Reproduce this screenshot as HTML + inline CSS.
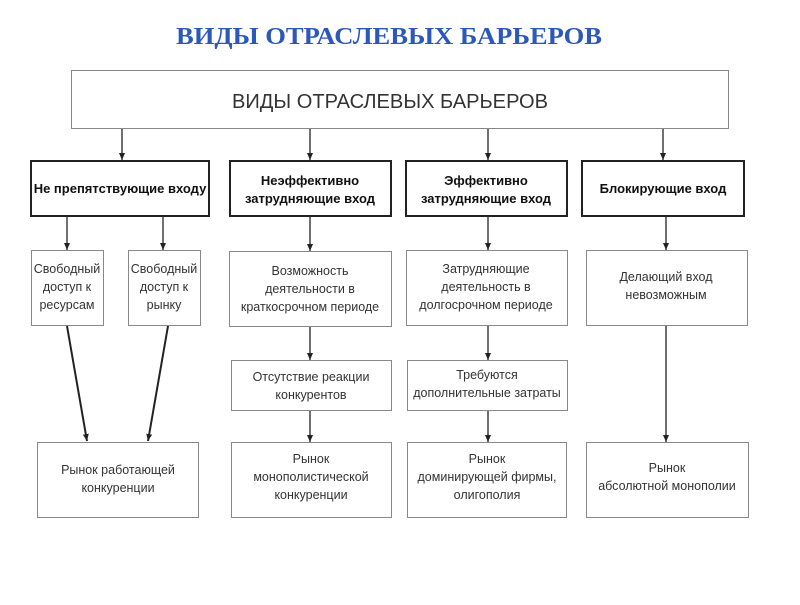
<!DOCTYPE html>
<html><head><meta charset="utf-8"><style>
body{margin:0;background:#fff;width:800px;height:600px;overflow:hidden}
svg text{font-family:"Liberation Sans","DejaVu Sans",sans-serif;fill:#333;text-anchor:middle}
</style></head><body>
<svg width="800" height="600" xmlns="http://www.w3.org/2000/svg">
<defs><marker id="a" markerWidth="8" markerHeight="8" refX="7" refY="4" orient="auto" markerUnits="userSpaceOnUse"><path d="M0,1 L7,4 L0,7 z" fill="#222"/></marker></defs>
<text x="389" y="44" textLength="426" lengthAdjust="spacingAndGlyphs" style="font-family:'Liberation Serif',serif;font-weight:bold;font-size:24px;fill:#2c58bc">ВИДЫ ОТРАСЛЕВЫХ БАРЬЕРОВ</text>
<g fill="#fff" stroke="#888" stroke-width="1">
<rect x="71.5" y="70.5" width="657" height="58"/>
<rect x="31.5" y="250.5" width="72" height="75"/>
<rect x="128.5" y="250.5" width="72" height="75"/>
<rect x="229.5" y="251.5" width="162" height="75"/>
<rect x="406.5" y="250.5" width="161" height="75"/>
<rect x="586.5" y="250.5" width="161" height="75"/>
<rect x="231.5" y="360.5" width="160" height="50"/>
<rect x="407.5" y="360.5" width="160" height="50"/>
<rect x="37.5" y="442.5" width="161" height="75"/>
<rect x="231.5" y="442.5" width="160" height="75"/>
<rect x="407.5" y="442.5" width="159" height="75"/>
<rect x="586.5" y="442.5" width="162" height="75"/>
</g>
<g fill="#fff" stroke="#222" stroke-width="2">
<rect x="31" y="161" width="178" height="55"/>
<rect x="230" y="161" width="161" height="55"/>
<rect x="406" y="161" width="161" height="55"/>
<rect x="582" y="161" width="162" height="55"/>
</g>
<g stroke="#222" stroke-width="1.3" marker-end="url(#a)">
<line x1="122" y1="129" x2="122" y2="160"/>
<line x1="310" y1="129" x2="310" y2="160"/>
<line x1="488" y1="129" x2="488" y2="160"/>
<line x1="663" y1="129" x2="663" y2="160"/>
<line x1="67" y1="217" x2="67" y2="250"/>
<line x1="163" y1="217" x2="163" y2="250"/>
<line x1="310" y1="217" x2="310" y2="251"/>
<line x1="488" y1="217" x2="488" y2="250"/>
<line x1="666" y1="217" x2="666" y2="250"/>
<line x1="310" y1="327" x2="310" y2="360"/>
<line x1="488" y1="326" x2="488" y2="360"/>
<line x1="310" y1="411" x2="310" y2="442"/>
<line x1="488" y1="411" x2="488" y2="442"/>
<line x1="666" y1="326" x2="666" y2="442"/>
</g>
<g stroke="#222" stroke-width="2" marker-end="url(#a)">
<line x1="67" y1="326" x2="87" y2="441"/>
<line x1="168" y1="326" x2="148" y2="441"/>
</g>
<text x="390" y="108" textLength="316" lengthAdjust="spacingAndGlyphs" style="font-size:20px">ВИДЫ ОТРАСЛЕВЫХ БАРЬЕРОВ</text>
<g style="font-size:13px;font-weight:bold">
<text x="120" y="193" style="fill:#111">Не препятствующие входу</text>
<text x="310" y="185" style="fill:#111">Неэффективно</text>
<text x="310" y="203" style="fill:#111">затрудняющие вход</text>
<text x="486" y="185" style="fill:#111">Эффективно</text>
<text x="486" y="203" style="fill:#111">затрудняющие вход</text>
<text x="663" y="193" style="fill:#111">Блокирующие вход</text>
</g>
<g style="font-size:12.5px">
<text x="67" y="273">Свободный</text><text x="67" y="291">доступ к</text><text x="67" y="309">ресурсам</text>
<text x="164" y="273">Свободный</text><text x="164" y="291">доступ к</text><text x="164" y="309">рынку</text>
<text x="310" y="275">Возможность</text><text x="310" y="293">деятельности в</text><text x="310" y="311">краткосрочном периоде</text>
<text x="486" y="273">Затрудняющие</text><text x="486" y="291">деятельность в</text><text x="486" y="309">долгосрочном периоде</text>
<text x="666" y="281">Делающий вход</text><text x="666" y="299">невозможным</text>
<text x="311" y="381">Отсутствие реакции</text><text x="311" y="399">конкурентов</text>
<text x="487" y="379">Требуются</text><text x="487" y="397">дополнительные затраты</text>
<text x="118" y="474">Рынок работающей</text><text x="118" y="492">конкуренции</text>
<text x="311" y="463">Рынок</text><text x="311" y="481">монополистической</text><text x="311" y="499">конкуренции</text>
<text x="487" y="463">Рынок</text><text x="487" y="481">доминирующей фирмы,</text><text x="487" y="499">олигополия</text>
<text x="667" y="472">Рынок</text><text x="667" y="490">абсолютной монополии</text>
</g>
</svg>
</body></html>
